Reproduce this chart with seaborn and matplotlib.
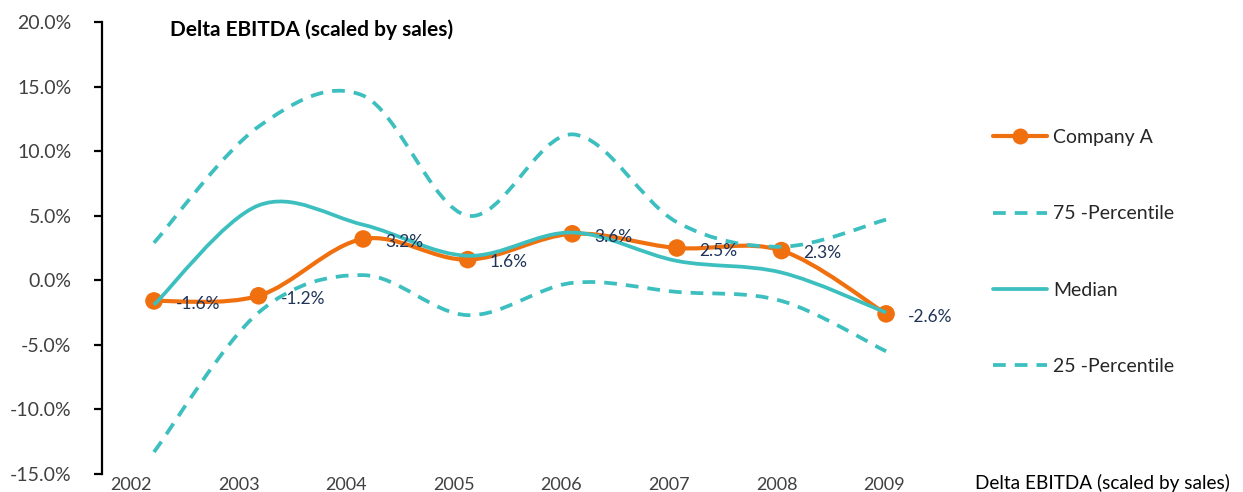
import numpy as np
import matplotlib
matplotlib.use("Agg")
import matplotlib.pyplot as plt
import seaborn as sns
from matplotlib.path import Path
from matplotlib.patches import PathPatch
from matplotlib.lines import Line2D
from matplotlib.ticker import FuncFormatter

# ---- data (percent) ----
years = [2002, 2003, 2004, 2005, 2006, 2007, 2008, 2009]
company_a = [-1.6, -1.2, 3.2, 1.6, 3.6, 2.5, 2.3, -2.6]
p75 = [2.9, 11.9, 14.3, 5.0, 11.3, 4.5, 2.6, 4.7]
median = [-1.9, 5.8, 4.3, 1.9, 3.7, 1.5, 0.6, -2.5]
p25 = [-13.3, -2.5, 0.4, -2.7, -0.2, -0.9, -1.6, -5.5]
labels = ["Company A", "75 -Percentile", "Median", "25 -Percentile"]
title = "Delta EBITDA (scaled by sales)"

TEAL = "#3DBFBF"
ORANGE = "#F0700F"
LABEL_C = "#1F3458"
TICK_C = "#404040"

sns.set_theme(style="white")
plt.rcParams["font.family"] = ["Lato", "DejaVu Sans"]

fig = plt.figure(figsize=(12.43, 4.92), dpi=100)
ax = fig.add_axes([102 / 1243, 18 / 492, (930 - 102) / 1243, (474 - 22) / 492])

x = np.arange(len(years))


def smooth_path(xs, ys):
    """Excel-like smoothed line as cubic Bezier segments (Catmull-Rom control points)."""
    n = len(xs)
    verts = [(xs[0], ys[0])]
    codes = [Path.MOVETO]
    for i in range(n - 1):
        a = i - 1 if i > 0 else i
        d = i + 2 if i + 2 < n else i + 1
        c1 = (xs[i] + (xs[i + 1] - xs[a]) / 6, ys[i] + (ys[i + 1] - ys[a]) / 6)
        c2 = (xs[i + 1] - (xs[d] - xs[i]) / 6, ys[i + 1] - (ys[d] - ys[i]) / 6)
        verts += [c1, c2, (xs[i + 1], ys[i + 1])]
        codes += [Path.CURVE4] * 3
    return Path(verts, codes)


def add_curve(ys, color, lw, ls, z):
    patch = PathPatch(smooth_path(x, ys), facecolor="none", edgecolor=color,
                      lw=lw, linestyle=ls, zorder=z, capstyle="butt",
                      transform=ax.transData)
    ax.add_patch(patch)


dash = (0, (3.4, 2.4))
# Company A line + markers
add_curve(company_a, ORANGE, 3.0, "-", 2)
sns.scatterplot(x=x, y=company_a, ax=ax, color=ORANGE, s=160, edgecolor="none",
                zorder=3, legend=False)
add_curve(p75, TEAL, 2.7, dash, 4)
add_curve(median, TEAL, 2.7, "-", 4)
add_curve(p25, TEAL, 2.7, dash, 4)

# data labels
for xi, v in zip(x, company_a):
    ax.annotate(f"{v:.1f}%", (xi, v), xytext=(16, -2), textcoords="offset points",
                ha="left", va="center", fontsize=12.5, color=LABEL_C, zorder=5)

ax.set_xlim(-0.497, 7.42)
ax.set_ylim(-15, 20)
ax.set_yticks(np.arange(-15, 20.1, 5))
ax.yaxis.set_major_formatter(FuncFormatter(lambda v, p: f"{v:.1f}%"))
ax.set_xticks(np.arange(len(years)) * 1.029 - 0.22)
ax.set_xticklabels([str(y) for y in years])

for s in ["top", "right", "bottom"]:
    ax.spines[s].set_visible(False)
ax.spines["left"].set_color("black")
ax.spines["left"].set_linewidth(1.6)
ax.tick_params(axis="y", which="major", left=True, length=6, width=1.6,
               color="black", labelsize=14, labelcolor=TICK_C, pad=16)
ax.tick_params(axis="x", which="major", bottom=False, length=0,
               labelsize=13, labelcolor=TICK_C, pad=2)
ax.grid(False)
ax.set_facecolor("white")

fig.text(170 / 1243, (492 - 30) / 492, title, fontsize=15, fontweight="bold",
         color="black", ha="left", va="center")
fig.text(1230 / 1243, (492 - 483) / 492, title, fontsize=13.7, color="black",
         ha="right", va="center")

handles = [
    Line2D([], [], color=ORANGE, lw=3.0, marker="o", markersize=11.5, markeredgewidth=0),
    Line2D([], [], color=TEAL, lw=2.7, linestyle=dash),
    Line2D([], [], color=TEAL, lw=2.7),
    Line2D([], [], color=TEAL, lw=2.7, linestyle=dash),
]
fig.legend(handles, labels, loc="upper left", bbox_to_anchor=(993 / 1243, (492 - 129) / 492),
           frameon=False, fontsize=14, handlelength=2.8, handletextpad=0.3,
           labelspacing=3.05, borderaxespad=0, borderpad=0)

fig.savefig("out.png", dpi=100, facecolor="white")
